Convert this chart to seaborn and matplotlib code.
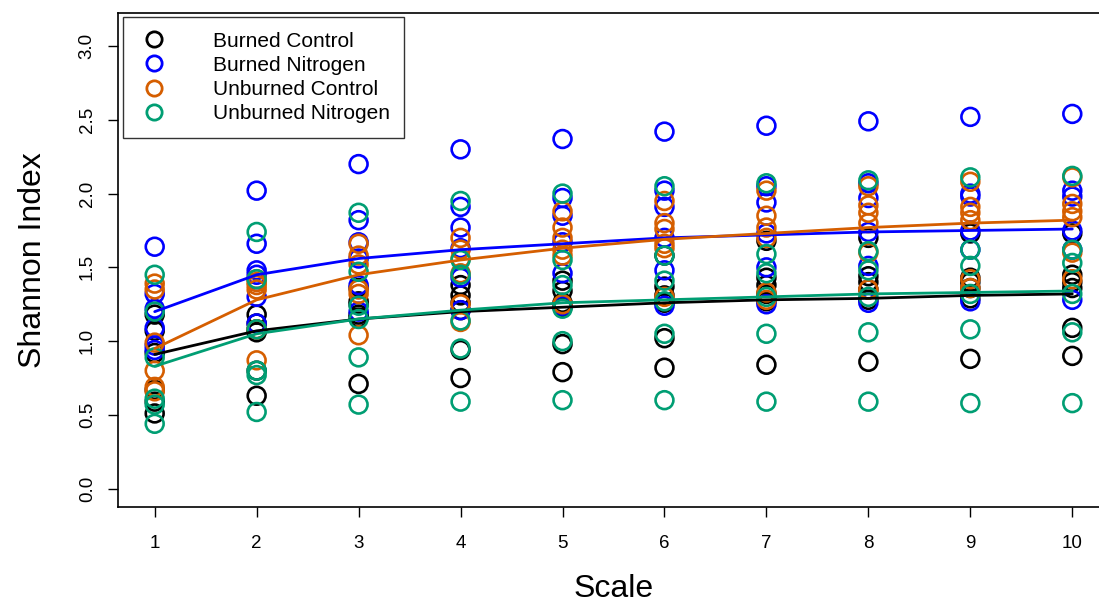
import numpy as np
import pandas as pd
import matplotlib
matplotlib.use("Agg")
import matplotlib.pyplot as plt
import seaborn as sns
from matplotlib.lines import Line2D

scales = [1, 2, 3, 4, 5, 6, 7, 8, 9, 10]
groups = ["Burned Control", "Burned Nitrogen", "Unburned Control", "Unburned Nitrogen"]
colors = ["#000000", "#0000FF", "#D55E00", "#009E73"]

burned_control = [
    [1.18, 1.07, 0.92, 0.67, 0.59, 0.51],
    [1.18, 1.12, 1.08, 1.06, 0.80, 0.63],
    [1.36, 1.27, 1.25, 1.18, 1.16, 0.71],
    [1.38, 1.31, 1.26, 1.21, 0.94, 0.75],
    [1.41, 1.34, 1.26, 1.23, 0.98, 0.79],
    [1.58, 1.37, 1.31, 1.26, 1.02, 0.82],
    [1.68, 1.43, 1.38, 1.32, 1.27, 0.84],
    [1.70, 1.44, 1.40, 1.35, 1.28, 0.86],
    [1.73, 1.43, 1.40, 1.36, 1.29, 0.88],
    [1.73, 1.45, 1.40, 1.36, 1.09, 0.90],
]
burned_nitrogen = [
    [1.64, 1.32, 1.22, 1.09, 0.97, 0.94],
    [2.02, 1.66, 1.48, 1.45, 1.30, 1.12],
    [2.20, 1.82, 1.67, 1.56, 1.38, 1.20],
    [2.30, 1.91, 1.77, 1.63, 1.43, 1.21],
    [2.37, 1.97, 1.85, 1.67, 1.46, 1.24],
    [2.42, 2.02, 1.91, 1.70, 1.48, 1.24],
    [2.46, 2.05, 1.94, 1.73, 1.50, 1.25],
    [2.49, 2.07, 1.97, 1.74, 1.51, 1.26],
    [2.52, 2.00, 1.98, 1.75, 1.62, 1.27],
    [2.54, 2.02, 1.98, 1.75, 1.62, 1.28],
]
unburned_control = [
    [1.39, 1.35, 0.99, 0.80, 0.69, 0.66],
    [1.42, 1.40, 1.38, 1.35, 1.08, 0.87],
    [1.66, 1.58, 1.52, 1.35, 1.32, 1.04],
    [1.70, 1.62, 1.56, 1.46, 1.25, 1.13],
    [1.88, 1.77, 1.70, 1.62, 1.58, 1.25],
    [1.95, 1.80, 1.76, 1.66, 1.63, 1.30],
    [2.02, 1.85, 1.77, 1.70, 1.33, 1.28],
    [2.05, 1.92, 1.87, 1.80, 1.60, 1.35],
    [2.08, 1.91, 1.87, 1.82, 1.42, 1.36],
    [2.11, 1.93, 1.88, 1.84, 1.60, 1.42],
]
unburned_nitrogen = [
    [1.45, 1.20, 0.89, 0.61, 0.57, 0.44],
    [1.74, 1.42, 1.08, 0.80, 0.77, 0.52],
    [1.87, 1.47, 1.24, 1.15, 0.89, 0.57],
    [1.95, 1.55, 1.45, 1.14, 0.95, 0.59],
    [2.00, 1.55, 1.38, 1.22, 1.00, 0.60],
    [2.05, 1.58, 1.41, 1.27, 1.05, 0.60],
    [2.07, 1.59, 1.46, 1.30, 1.05, 0.59],
    [2.09, 1.61, 1.48, 1.30, 1.06, 0.59],
    [2.11, 1.62, 1.51, 1.32, 1.08, 0.58],
    [2.12, 1.62, 1.53, 1.32, 1.06, 0.58],
]

fit_burned_control = [0.91, 1.07, 1.15, 1.20, 1.23, 1.26, 1.28, 1.29, 1.31, 1.32]
fit_burned_nitrogen = [1.20, 1.45, 1.56, 1.62, 1.66, 1.70, 1.72, 1.74, 1.75, 1.76]
fit_unburned_control = [0.95, 1.28, 1.45, 1.55, 1.63, 1.69, 1.73, 1.77, 1.80, 1.82]
fit_unburned_nitrogen = [0.83, 1.05, 1.15, 1.21, 1.26, 1.28, 1.30, 1.32, 1.33, 1.34]

point_sets = [burned_control, burned_nitrogen, unburned_control, unburned_nitrogen]
fit_sets = [fit_burned_control, fit_burned_nitrogen, fit_unburned_control, fit_unburned_nitrogen]

rows = []
for g, pts in zip(groups, point_sets):
    for s, vals in zip(scales, pts):
        for v in vals:
            rows.append({"Scale": s, "Shannon": v, "Group": g})
df = pd.DataFrame(rows)

fit_rows = []
for g, fit in zip(groups, fit_sets):
    for s, v in zip(scales, fit):
        fit_rows.append({"Scale": s, "Shannon": v, "Group": g})
df_fit = pd.DataFrame(fit_rows)

sns.set_style("white")
plt.rcParams["font.family"] = ["Liberation Sans", "DejaVu Sans"]
plt.rcParams["text.color"] = "black"
plt.rcParams["axes.labelcolor"] = "black"
plt.rcParams["xtick.color"] = "black"
plt.rcParams["ytick.color"] = "black"

W, H = 1099, 606
fig = plt.figure(figsize=(W / 100, H / 100), dpi=100)
left, right, top, bottom = 118, 1109, 13, 507
ax = fig.add_axes([left / W, 1 - bottom / H, (right - left) / W, (bottom - top) / H])

palette = dict(zip(groups, colors))

sns.scatterplot(data=df, x="Scale", y="Shannon", hue="Group", palette=palette,
                ax=ax, s=165, marker="o", linewidth=1.9,
                legend=False, zorder=2)
sc = ax.collections[-1]
fc = sc.get_facecolors()
sc.set_edgecolors(fc)
sc.set_facecolor("none")

sns.lineplot(data=df_fit, x="Scale", y="Shannon", hue="Group", palette=palette,
             linewidth=2.0, ax=ax, legend=False, zorder=3, errorbar=None)

ax.set_xlim(0.64, 10.36)
ax.set_ylim(-0.124, 3.224)
ax.set_xticks(scales)
ax.set_xticklabels([str(s) for s in scales], fontsize=13.5)
yt = [0.0, 0.5, 1.0, 1.5, 2.0, 2.5, 3.0]
ax.set_yticks(yt)
ax.set_yticklabels([f"{v:.1f}" for v in yt], fontsize=13.5, rotation=90, va="center")
ax.tick_params(axis="x", direction="out", length=7, width=1, bottom=True, pad=13)
ax.tick_params(axis="y", direction="out", length=7, width=1, left=True, pad=9)
for sp in ax.spines.values():
    sp.set_color("black")
    sp.set_linewidth(1.2)
ax.set_xlabel("Scale", fontsize=23, labelpad=16)
ax.set_ylabel("Shannon Index", fontsize=23, labelpad=22)

handles = [Line2D([], [], marker="o", linestyle="none", markersize=11,
                  markerfacecolor="none", markeredgecolor=c, markeredgewidth=2.0)
           for c in colors]
leg = ax.legend(handles, groups, loc="upper left",
                bbox_to_anchor=(5 / (right - left), 1 - 4 / (bottom - top)),
                frameon=True, fancybox=False, fontsize=15, borderpad=0.7,
                handletextpad=2.0, labelspacing=0.25, borderaxespad=0,
                handlelength=1.6)
leg.get_frame().set_edgecolor("black")
leg.get_frame().set_linewidth(1.0)

fig.savefig("out.png", dpi=100)
